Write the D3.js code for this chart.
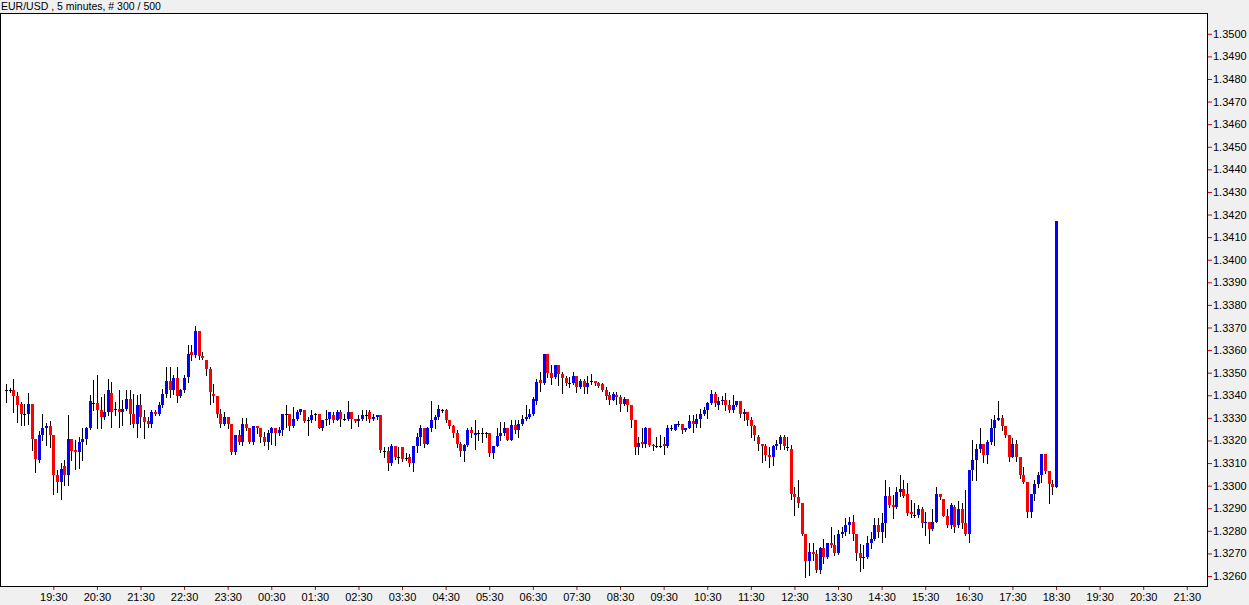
<!DOCTYPE html>
<html><head><meta charset="utf-8">
<script src="https://cdn.jsdelivr.net/npm/d3@7"></script>
<style>
html,body{margin:0;padding:0;background:#f0f0f0;}
svg{display:block;}
text{font-family:"Liberation Sans",Arial,sans-serif;font-size:11px;fill:#000;}
</style></head><body>
<svg id="chart" width="1249" height="605"></svg>
<script>
const title = "EUR/USD , 5 minutes, # 300 / 500";

const open = [
1.33422,1.33422,1.33422,1.33397,1.33363,1.33319,1.33319,1.33363,1.33206,1.33113,
1.33223,1.33253,1.33265,1.33223,1.33046,1.33017,1.33086,1.33046,1.33206,1.33157,
1.33147,1.33194,1.33206,1.33253,1.33366,1.33366,1.33334,1.33304,1.33324,1.33412,
1.33341,1.33341,1.33326,1.33341,1.33382,1.33319,1.33275,1.33356,1.33304,1.33285,
1.33275,1.33324,1.33319,1.33356,1.33407,1.33463,1.33422,1.33478,1.33397,1.33422,
1.33481,1.33592,1.33577,1.33684,1.33572,1.33555,1.33518,1.33404,1.33396,1.33319,
1.33275,1.33304,1.33272,1.33150,1.33223,1.33194,1.33272,1.33253,1.33194,1.33263,
1.33253,1.33216,1.33191,1.33231,1.33253,1.33234,1.33245,1.33316,1.33316,1.33263,
1.33294,1.33326,1.33336,1.33292,1.33292,1.33316,1.33316,1.33257,1.33290,1.33294,
1.33314,1.33290,1.33324,1.33294,1.33294,1.33324,1.33297,1.33287,1.33294,1.33314,
1.33324,1.33294,1.33304,1.33314,1.33152,1.33152,1.33098,1.33175,1.33127,1.33169,
1.33124,1.33127,1.33098,1.33175,1.33216,1.33256,1.33186,1.33253,1.33289,1.33304,
1.33334,1.33334,1.33292,1.33263,1.33231,1.33183,1.33154,1.33179,1.33245,1.33223,
1.33231,1.33231,1.33231,1.33231,1.33145,1.33175,1.33219,1.33231,1.33253,1.33204,
1.33270,1.33248,1.33275,1.33294,1.33302,1.33316,1.33375,1.33469,1.33454,1.33581,
1.33500,1.33481,1.33533,1.33496,1.33477,1.33454,1.33454,1.33484,1.33437,1.33463,
1.33437,1.33462,1.33462,1.33454,1.33452,1.33422,1.33400,1.33381,1.33403,1.33393,
1.33363,1.33382,1.33356,1.33292,1.33169,1.33191,1.33183,1.33253,1.33179,1.33175,
1.33175,1.33183,1.33175,1.33253,1.33248,1.33272,1.33272,1.33248,1.33257,1.33285,
1.33275,1.33294,1.33316,1.33334,1.33366,1.33407,1.33356,1.33375,1.33381,1.33359,
1.33334,1.33356,1.33373,1.33319,1.33326,1.33292,1.33263,1.33216,1.33186,1.33175,
1.33135,1.33127,1.33175,1.33183,1.33216,1.33172,1.33164,1.32965,1.32948,1.32924,
1.32786,1.32668,1.32705,1.32697,1.32626,1.32722,1.32685,1.32744,1.32737,1.32703,
1.32786,1.32796,1.32825,1.32840,1.32786,1.32703,1.32678,1.32685,1.32744,1.32762,
1.32825,1.32796,1.32836,1.32954,1.32914,1.32906,1.32973,1.32985,1.32965,1.32884,
1.32870,1.32870,1.32895,1.32836,1.32840,1.32806,1.32840,1.32965,1.32943,1.32865,
1.32825,1.32906,1.32825,1.32895,1.32833,1.32786,1.33071,1.33113,1.33164,1.33183,
1.33135,1.33194,1.33256,1.33292,1.33301,1.33263,1.33223,1.33128,1.33183,1.33128,
1.33046,1.33017,1.32884,1.32965,1.33007,1.33046,1.33142,1.33066,1.33007,1.32995
];

const high = [
1.33452,1.33430,1.33474,1.33415,1.33371,1.33363,1.33412,1.33363,1.33206,1.33240,
1.33315,1.33279,1.33285,1.33223,1.33068,1.33098,1.33113,1.33312,1.33206,1.33201,
1.33216,1.33253,1.33260,1.33400,1.33466,1.33488,1.33393,1.33407,1.33474,1.33459,
1.33371,1.33422,1.33378,1.33422,1.33422,1.33407,1.33400,1.33407,1.33334,1.33304,
1.33334,1.33334,1.33371,1.33429,1.33525,1.33525,1.33488,1.33525,1.33429,1.33488,
1.33621,1.33621,1.33705,1.33684,1.33592,1.33555,1.33525,1.33452,1.33396,1.33341,
1.33326,1.33304,1.33272,1.33223,1.33245,1.33301,1.33301,1.33253,1.33263,1.33263,
1.33253,1.33238,1.33245,1.33260,1.33253,1.33260,1.33319,1.33356,1.33316,1.33349,
1.33334,1.33341,1.33336,1.33304,1.33334,1.33322,1.33316,1.33290,1.33334,1.33326,
1.33326,1.33334,1.33334,1.33319,1.33373,1.33324,1.33297,1.33312,1.33334,1.33334,
1.33334,1.33319,1.33314,1.33314,1.33172,1.33172,1.33183,1.33175,1.33172,1.33172,
1.33145,1.33142,1.33175,1.33231,1.33267,1.33256,1.33260,1.33373,1.33312,1.33356,
1.33341,1.33341,1.33292,1.33267,1.33245,1.33194,1.33186,1.33253,1.33260,1.33289,
1.33248,1.33257,1.33238,1.33231,1.33175,1.33257,1.33282,1.33282,1.33253,1.33289,
1.33289,1.33289,1.33312,1.33356,1.33341,1.33393,1.33474,1.33503,1.33581,1.33581,
1.33533,1.33533,1.33533,1.33503,1.33484,1.33481,1.33503,1.33484,1.33474,1.33474,
1.33484,1.33493,1.33462,1.33459,1.33455,1.33437,1.33415,1.33415,1.33415,1.33400,
1.33393,1.33382,1.33356,1.33292,1.33216,1.33257,1.33260,1.33253,1.33186,1.33216,
1.33223,1.33216,1.33267,1.33267,1.33275,1.33285,1.33272,1.33257,1.33312,1.33312,
1.33319,1.33341,1.33348,1.33370,1.33422,1.33415,1.33393,1.33396,1.33410,1.33378,
1.33400,1.33375,1.33375,1.33341,1.33326,1.33304,1.33267,1.33223,1.33186,1.33186,
1.33172,1.33179,1.33201,1.33223,1.33223,1.33216,1.33179,1.32995,1.33024,1.32924,
1.32786,1.32744,1.32744,1.32715,1.32730,1.32762,1.32747,1.32818,1.32781,1.32803,
1.32818,1.32855,1.32859,1.32870,1.32786,1.32741,1.32737,1.32777,1.32796,1.32855,
1.32855,1.32877,1.33024,1.32992,1.32958,1.32995,1.33046,1.33024,1.33012,1.32936,
1.32924,1.32914,1.32906,1.32884,1.32840,1.32895,1.32992,1.32965,1.32943,1.32895,
1.32924,1.32914,1.32933,1.32921,1.32980,1.33071,1.33201,1.33186,1.33253,1.33183,
1.33204,1.33297,1.33312,1.33375,1.33312,1.33263,1.33223,1.33213,1.33204,1.33128,
1.33083,1.33017,1.32965,1.33024,1.33061,1.33142,1.33142,1.33066,1.33024,1.34171
];

const low = [
1.33371,1.33415,1.33324,1.33282,1.33267,1.33267,1.33275,1.33157,1.33061,1.33105,
1.33201,1.33179,1.33172,1.32965,1.32973,1.32943,1.33002,1.33002,1.33113,1.33073,
1.33076,1.33113,1.33186,1.33250,1.33334,1.33253,1.33253,1.33297,1.33312,1.33260,
1.33312,1.33260,1.33267,1.33334,1.33275,1.33260,1.33216,1.33260,1.33213,1.33260,
1.33260,1.33312,1.33312,1.33349,1.33393,1.33393,1.33407,1.33371,1.33393,1.33415,
1.33459,1.33555,1.33569,1.33562,1.33562,1.33488,1.33363,1.33370,1.33304,1.33260,
1.33267,1.33253,1.33142,1.33142,1.33186,1.33179,1.33245,1.33189,1.33186,1.33231,
1.33194,1.33179,1.33164,1.33186,1.33179,1.33223,1.33223,1.33260,1.33245,1.33260,
1.33290,1.33319,1.33282,1.33223,1.33282,1.33290,1.33253,1.33245,1.33267,1.33275,
1.33282,1.33290,1.33263,1.33290,1.33290,1.33253,1.33282,1.33263,1.33290,1.33290,
1.33282,1.33290,1.33297,1.33150,1.33127,1.33068,1.33091,1.33120,1.33101,1.33110,
1.33113,1.33086,1.33066,1.33149,1.33179,1.33172,1.33183,1.33242,1.33253,1.33297,
1.33326,1.33282,1.33253,1.33216,1.33172,1.33130,1.33110,1.33175,1.33216,1.33160,
1.33201,1.33194,1.33216,1.33130,1.33124,1.33175,1.33204,1.33223,1.33201,1.33201,
1.33231,1.33216,1.33267,1.33289,1.33301,1.33312,1.33363,1.33419,1.33452,1.33481,
1.33449,1.33478,1.33444,1.33412,1.33444,1.33437,1.33449,1.33415,1.33434,1.33410,
1.33412,1.33452,1.33444,1.33437,1.33419,1.33385,1.33363,1.33378,1.33363,1.33331,
1.33356,1.33331,1.33260,1.33142,1.33142,1.33172,1.33172,1.33175,1.33157,1.33172,
1.33172,1.33142,1.33172,1.33245,1.33245,1.33263,1.33231,1.33242,1.33253,1.33238,
1.33260,1.33260,1.33312,1.33300,1.33363,1.33351,1.33341,1.33363,1.33334,1.33326,
1.33326,1.33351,1.33304,1.33289,1.33267,1.33216,1.33201,1.33157,1.33105,1.33113,
1.33083,1.33091,1.33164,1.33164,1.33164,1.33157,1.32943,1.32870,1.32906,1.32781,
1.32597,1.32604,1.32671,1.32619,1.32615,1.32659,1.32678,1.32730,1.32693,1.32697,
1.32774,1.32781,1.32791,1.32759,1.32671,1.32624,1.32634,1.32678,1.32722,1.32759,
1.32774,1.32752,1.32774,1.32906,1.32855,1.32900,1.32954,1.32951,1.32870,1.32862,
1.32859,1.32862,1.32818,1.32781,1.32744,1.32803,1.32840,1.32943,1.32865,1.32818,
1.32811,1.32796,1.32818,1.32811,1.32781,1.32752,1.33024,1.33024,1.33150,1.33105,
1.33101,1.33183,1.33179,1.33289,1.33248,1.33216,1.33110,1.33128,1.33110,1.33032,
1.33010,1.32862,1.32862,1.32936,1.32995,1.33017,1.33054,1.32921,1.32965,1.32992
];

const close = [
1.33422,1.33422,1.33397,1.33359,1.33319,1.33319,1.33363,1.33206,1.33116,1.33223,
1.33253,1.33265,1.33223,1.33046,1.33017,1.33073,1.33046,1.33206,1.33154,1.33147,
1.33194,1.33206,1.33253,1.33374,1.33366,1.33334,1.33304,1.33324,1.33422,1.33324,
1.33341,1.33326,1.33341,1.33382,1.33319,1.33275,1.33356,1.33304,1.33282,1.33275,
1.33324,1.33319,1.33356,1.33407,1.33463,1.33422,1.33478,1.33397,1.33422,1.33478,
1.33584,1.33577,1.33684,1.33572,1.33565,1.33518,1.33415,1.33396,1.33319,1.33275,
1.33304,1.33272,1.33150,1.33223,1.33194,1.33272,1.33253,1.33194,1.33263,1.33256,
1.33216,1.33191,1.33231,1.33253,1.33234,1.33245,1.33316,1.33316,1.33263,1.33294,
1.33326,1.33341,1.33287,1.33292,1.33314,1.33316,1.33257,1.33290,1.33294,1.33324,
1.33290,1.33326,1.33294,1.33294,1.33324,1.33294,1.33287,1.33294,1.33314,1.33314,
1.33294,1.33304,1.33314,1.33157,1.33152,1.33098,1.33175,1.33127,1.33127,1.33116,
1.33124,1.33098,1.33175,1.33216,1.33256,1.33186,1.33256,1.33289,1.33304,1.33341,
1.33334,1.33292,1.33263,1.33231,1.33186,1.33154,1.33179,1.33245,1.33231,1.33231,
1.33231,1.33231,1.33231,1.33145,1.33175,1.33219,1.33231,1.33253,1.33204,1.33270,
1.33248,1.33275,1.33294,1.33304,1.33316,1.33385,1.33459,1.33454,1.33581,1.33500,
1.33478,1.33533,1.33496,1.33477,1.33454,1.33454,1.33484,1.33437,1.33463,1.33437,
1.33454,1.33462,1.33454,1.33440,1.33422,1.33396,1.33381,1.33404,1.33393,1.33363,
1.33382,1.33356,1.33292,1.33169,1.33189,1.33183,1.33253,1.33179,1.33175,1.33175,
1.33175,1.33175,1.33253,1.33253,1.33272,1.33272,1.33248,1.33257,1.33285,1.33275,
1.33294,1.33316,1.33334,1.33366,1.33407,1.33366,1.33375,1.33381,1.33356,1.33334,
1.33356,1.33373,1.33319,1.33326,1.33292,1.33263,1.33223,1.33186,1.33175,1.33135,
1.33127,1.33175,1.33183,1.33216,1.33176,1.33172,1.32965,1.32948,1.32924,1.32786,
1.32668,1.32705,1.32697,1.32626,1.32722,1.32685,1.32744,1.32737,1.32700,1.32786,
1.32796,1.32825,1.32840,1.32786,1.32703,1.32678,1.32685,1.32744,1.32762,1.32825,
1.32796,1.32836,1.32954,1.32914,1.32906,1.32973,1.32985,1.32954,1.32880,1.32874,
1.32870,1.32895,1.32836,1.32840,1.32806,1.32840,1.32965,1.32948,1.32865,1.32825,
1.32914,1.32818,1.32895,1.32833,1.32786,1.33071,1.33113,1.33164,1.33183,1.33135,
1.33194,1.33256,1.33292,1.33301,1.33263,1.33223,1.33128,1.33183,1.33128,1.33046,
1.33017,1.32884,1.32965,1.33007,1.33046,1.33142,1.33066,1.33007,1.32995,1.34171
];

const timeLabels = ["19:30","20:30","21:30","22:30","23:30","00:30","01:30","02:30","03:30",
  "04:30","05:30","06:30","07:30","08:30","09:30","10:30","11:30","12:30","13:30","14:30",
  "15:30","16:30","17:30","18:30","19:30","20:30","21:30"];
// bar index (5-minute bars since 18:25) at which each label sits
const timeLabelBars = timeLabels.map((_, k) => 13 + 12 * k);

const priceTicks = [1.3260,1.3270,1.3280,1.3290,1.3300,1.3310,1.3320,1.3330,1.3340,1.3350,
  1.3360,1.3370,1.3380,1.3390,1.3400,1.3410,1.3420,1.3430,1.3440,1.3450,1.3460,1.3470,
  1.3480,1.3490,1.3500];

const plot = {left: 0, top: 13, right: 1207, bottom: 586};

const svg = d3.select("#chart");

const bars = open.map((o, i) => ({i, o, h: high[i], l: low[i], c: close[i]}));

const x = d3.scaleLinear().domain([0, bars.length - 1]).range([6.07, 6.07 + 3.633 * (bars.length - 1)]);
const y = d3.scaleLinear().domain([1.3260, 1.3500]).range([576, 33.8]);

// title
svg.append("text").attr("x", 1).attr("y", 10).attr("font-size", 10.5).style("font-size", "10.5px").text(title);

// plot background & frame
svg.append("rect")
  .attr("x", plot.left + 0.5).attr("y", plot.top + 0.5)
  .attr("width", plot.right - plot.left).attr("height", plot.bottom - plot.top)
  .attr("fill", "#ffffff").attr("stroke", "#000").attr("stroke-width", 1);

// right price axis
const yAxis = d3.axisRight(y).tickValues(priceTicks).tickFormat(d3.format(".4f")).tickSize(4).tickPadding(1);
const gy = svg.append("g").attr("transform", `translate(${plot.right + 1},0)`).call(yAxis);
gy.select(".domain").remove();
gy.selectAll(".tick line").attr("stroke", "#d00000");
gy.selectAll(".tick text").attr("font-family", '"Liberation Sans", Arial, sans-serif').attr("font-size", 11).attr("fill", "#000");

// bottom time axis
const xAxis = d3.axisBottom(x).tickValues(timeLabelBars).tickFormat((d, k) => timeLabels[k]).tickSize(3).tickPadding(3);
const gx = svg.append("g").attr("transform", `translate(0,${plot.bottom + 1})`).call(xAxis);
gx.select(".domain").remove();
gx.selectAll(".tick line").attr("stroke", "#d00000");
gx.selectAll(".tick text").attr("font-family", '"Liberation Sans", Arial, sans-serif').attr("font-size", 11).attr("fill", "#000");

// candles
const g = svg.append("g").attr("shape-rendering", "crispEdges");
const cx = d => Math.round(x(d.i));

g.selectAll("line.wick").data(bars).join("line")
  .attr("class", "wick")
  .attr("x1", d => cx(d) + 0.5).attr("x2", d => cx(d) + 0.5)
  .attr("y1", d => Math.round(y(d.h))).attr("y2", d => Math.round(y(d.l)) + 1)
  .attr("stroke", "#000").attr("stroke-width", 1);

g.selectAll("rect.body").data(bars.filter(d => d.o !== d.c)).join("rect")
  .attr("class", "body")
  .attr("x", d => cx(d) - 1)
  .attr("width", 3)
  .attr("y", d => Math.round(y(Math.max(d.o, d.c))))
  .attr("height", d => Math.max(1, Math.round(y(Math.min(d.o, d.c))) - Math.round(y(Math.max(d.o, d.c)))))
  .attr("fill", d => d.c > d.o ? "#0000ff" : "#ff0000");

g.selectAll("line.doji").data(bars.filter(d => d.o === d.c)).join("line")
  .attr("class", "doji")
  .attr("x1", d => cx(d) - 1).attr("x2", d => cx(d) + 2)
  .attr("y1", d => Math.round(y(d.o)) + 0.5).attr("y2", d => Math.round(y(d.o)) + 0.5)
  .attr("stroke", "#000").attr("stroke-width", 1);
</script>
</body></html>
